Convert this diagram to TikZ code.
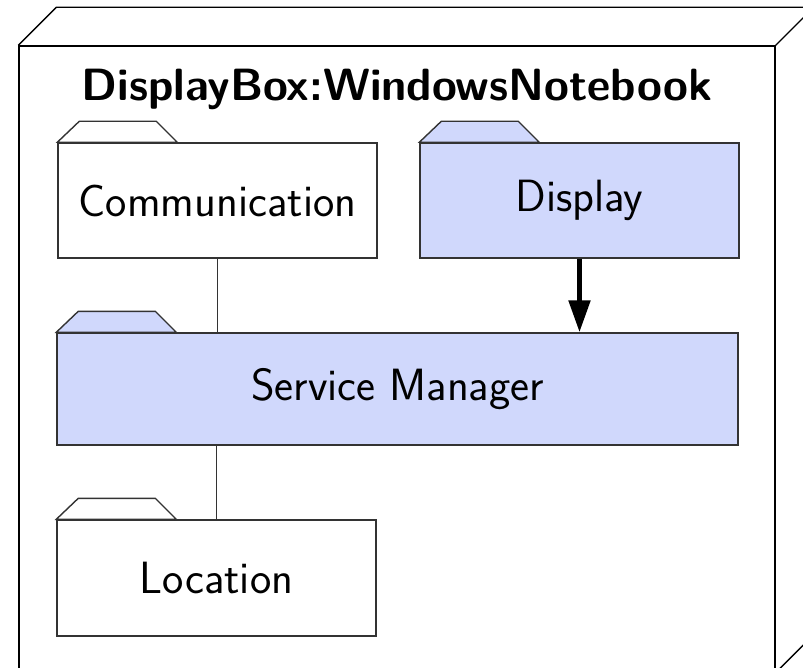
\documentclass[tikz,border=0pt]{standalone}
\usepackage{tikz}
\usetikzlibrary{arrows.meta,positioning}

\definecolor{pkgblue}{RGB}{208,216,252}

\begin{document}
\begin{tikzpicture}[
    x=0.5pt, y=-0.5pt,
    font=\sffamily\fontsize{22.6}{27}\selectfont,
    device/.style={draw, line width=0.7pt, minimum width=378pt, minimum height=313pt, inner sep=0pt},
    pkg/.style={draw=black!80, line width=0.7pt, fill=white, minimum width=159.5pt, minimum height=57.5pt, inner sep=0pt},
    pkgfill/.style={pkg, fill=pkgblue},
    tab/.style={draw=black!80, line width=0.7pt},
    link/.style={draw=black!80, line width=0.5pt},
    arrow/.style={-{Triangle[length=16pt, width=10.5pt]}, line width=2.6pt}
  ]
    \clip (0,0) rectangle (803,668);

    % the device node with its 3d edges
    \node[device] (dev) at (397,359) {};
    \draw[line width=0.7pt] (dev.north west) -- ++(38,-38) -- ++(900,0);
    \draw[line width=0.7pt] (dev.north east) -- ++(38,-38) -- ++(0,700);
    \draw[line width=0.7pt] (dev.south east) -- ++(38,-38);
    \node[font=\sffamily\bfseries\fontsize{22.6}{27}\selectfont] (title) at (397,89) {DisplayBox:WindowsNotebook};

    % packages
    \node[pkg] (comm) at (217.5,200.5) {Communication};
    \node[pkgfill] (disp) at (579.5,200.5) {Display};
    \node[pkgfill, minimum width=340.5pt, minimum height=56pt] (serv) at (397.5,389) {Service Manager};
    \node[pkg, minimum height=58pt] (loc) at (216.5,578) {Location};

    % folder tabs
    \foreach \p/\c in {comm/white, disp/pkgblue, serv/pkgblue, loc/white}
      \draw[tab, fill=\c] (\p.north west) -- ++(22,-21) -- ++(77,0) -- ++(21,21) -- cycle;

    \draw[link] (comm) -- (serv.north -| comm);
    \draw[link] (serv.south -| loc) -- (loc);
    \draw[arrow] (disp) -- (serv.north -| disp);
  \end{tikzpicture}
\end{document}
